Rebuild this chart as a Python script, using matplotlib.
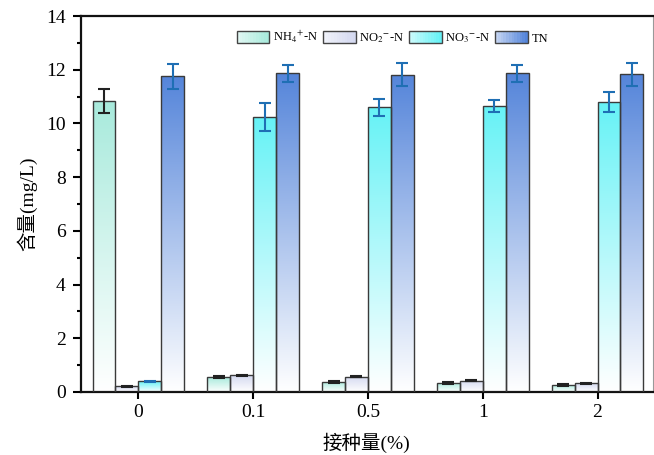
import numpy as np
import matplotlib
matplotlib.use("Agg")
import matplotlib.pyplot as plt
from matplotlib.colors import LinearSegmentedColormap
from matplotlib.patches import Rectangle
from matplotlib.legend_handler import HandlerBase

plt.rcParams['font.family'] = ['Liberation Serif', 'Noto Sans CJK SC']
plt.rcParams['mathtext.fontset'] = 'stix'

categories = ['0', '0.1', '0.5', '1', '2']
series = ['NH$_4$$^{+}$-N', 'NO$_2$$^{-}$-N', 'NO$_3$$^{-}$-N', 'TN']
nh4 = [10.82, 0.55, 0.38, 0.35, 0.27]
no2 = [0.22, 0.62, 0.57, 0.42, 0.33]
no3 = [0.40, 10.24, 10.60, 10.65, 10.80]
tn = [11.75, 11.87, 11.82, 11.86, 11.83]
nh4_err = [0.45, 0.03, 0.03, 0.04, 0.03]
no2_err = [0.02, 0.02, 0.02, 0.02, 0.02]
no3_err = [0.02, 0.52, 0.32, 0.22, 0.36]
tn_err = [0.47, 0.32, 0.42, 0.31, 0.43]

values = [nh4, no2, no3, tn]
errors = [nh4_err, no2_err, no3_err, tn_err]
top_colors = ['#a8eadc', '#d4d9f0', '#66f2f6', '#5585da']
err_colors = ['#222222', '#222222', '#1f6fb4', '#1f6fb4']

fig = plt.figure(figsize=(6.54, 4.55), dpi=100)
ax = fig.add_axes([0.1239, 0.1385, 0.874, 0.8263])

x = np.arange(len(categories))
w = 0.2
offsets = [-1.5 * w, -0.5 * w, 0.5 * w, 1.5 * w]

grad = np.linspace(0, 1, 256).reshape(-1, 1)

for i in range(4):
    cmap = LinearSegmentedColormap.from_list('g%d' % i, ['#ffffff', top_colors[i]])
    bars = ax.bar(x + offsets[i], values[i], width=w, facecolor='none',
                  edgecolor='#3a3a3a', linewidth=1.0, zorder=3)
    for b in bars:
        x0, y0 = b.get_x(), b.get_y()
        bw, bh = b.get_width(), b.get_height()
        im = ax.imshow(grad, cmap=cmap, origin='lower', aspect='auto',
                       extent=(x0, x0 + bw, y0, y0 + bh), zorder=2,
                       interpolation='bilinear')
        im.set_clip_path(b)
    ax.errorbar(x + offsets[i], values[i], yerr=errors[i], fmt='none',
                ecolor=err_colors[i], elinewidth=1.5, capsize=4, capthick=1.5,
                zorder=4)

ax.set_xlim(-0.5, 4.48)
ax.set_ylim(0, 14)
ax.set_xticks(x)
ax.set_xticklabels(categories, fontsize=14)
ax.set_yticks(np.arange(0, 15, 2))
ax.set_yticks(np.arange(1, 14, 2), minor=True)
ax.tick_params(axis='y', which='major', direction='out', length=6, width=1.5,
               labelsize=14, pad=5)
ax.tick_params(axis='y', which='minor', direction='out', length=3, width=1.5)
ax.tick_params(axis='x', which='major', direction='out', length=5, width=1.5,
               labelsize=14, pad=4)
ax.tick_params(axis='x', which='minor', length=0)

for s in ['left', 'bottom', 'top']:
    ax.spines[s].set_linewidth(1.6)
    ax.spines[s].set_color('#111111')
ax.spines['right'].set_linewidth(0.8)
ax.spines['right'].set_color('#999999')

ax.set_ylabel('含量(mg/L)', fontsize=14, labelpad=6)
ax.set_xlabel('接种量(%)', fontsize=14, labelpad=8)


class GradHandler(HandlerBase):
    def __init__(self, color):
        super().__init__()
        self.color = color

    def create_artists(self, legend, orig_handle, xdescent, ydescent, width,
                       height, fontsize, trans):
        arts = []
        n = 12
        cmap = LinearSegmentedColormap.from_list('lg', ['#ffffff', self.color])
        for k in range(n):
            r = Rectangle((-xdescent + width * k / n, -ydescent), width / n + 0.3, height,
                          facecolor=cmap(0.35 + 0.65 * (k / (n - 1))), edgecolor='none',
                          transform=trans)
            arts.append(r)
        border = Rectangle((-xdescent, -ydescent), width, height, facecolor='none',
                           edgecolor='#444444', linewidth=1.0, transform=trans)
        arts.append(border)
        return arts


handles = [Rectangle((0, 0), 1, 1) for _ in range(4)]
handler_map = {h: GradHandler(c) for h, c in zip(handles, top_colors)}
ax.legend(handles, series, loc='upper center', bbox_to_anchor=(0.545, 0.995), ncol=4,
          frameon=False, fontsize=9, handlelength=2.6, handleheight=1.1,
          columnspacing=0.4, handletextpad=0.3, handler_map=handler_map)

fig.savefig('out.png', dpi=100)
